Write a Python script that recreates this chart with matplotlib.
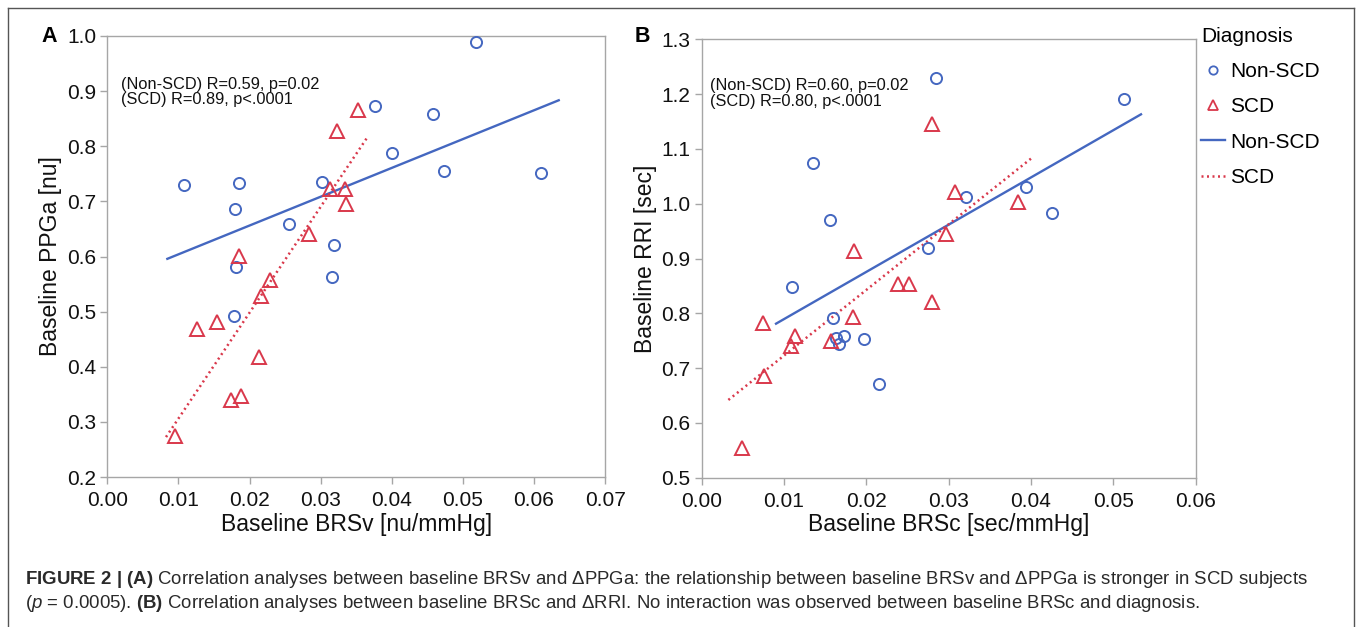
import matplotlib
matplotlib.use("Agg")
import matplotlib.pyplot as plt
from matplotlib.lines import Line2D

plt.rcParams['font.family'] = ['Liberation Sans', 'DejaVu Sans']
plt.rcParams['mathtext.fontset'] = 'custom'
plt.rcParams['mathtext.rm'] = 'Liberation Sans'
plt.rcParams['mathtext.it'] = 'Liberation Sans:italic'
plt.rcParams['mathtext.bf'] = 'Liberation Sans:bold'

# ---------------- Panel A data ----------------
a_nonscd_x = [0.0108, 0.0185, 0.0180, 0.0181, 0.0178, 0.0255, 0.0302, 0.0319,
              0.03165, 0.03765, 0.0401, 0.04585, 0.0474, 0.0519, 0.06095]
a_nonscd_y = [0.7305, 0.734, 0.6864, 0.5813, 0.4924, 0.6586, 0.736, 0.620,
              0.5631, 0.8725, 0.788, 0.859, 0.7553, 0.9897, 0.7517]
a_scd_x = [0.0353, 0.03235, 0.03132, 0.03348, 0.0335, 0.02836, 0.01852, 0.02288,
           0.02166, 0.01547, 0.01256, 0.02133, 0.01739, 0.01885, 0.00952]
a_scd_y = [0.8653, 0.8272, 0.722, 0.7233, 0.6949, 0.6417, 0.6006, 0.5577,
           0.5287, 0.4804, 0.4677, 0.4169, 0.3402, 0.3462, 0.2737]
a_fit_nonscd_x = [0.00844, 0.06348]
a_fit_nonscd_y = [0.5958, 0.8834]
a_fit_scd_x = [0.00825, 0.03657]
a_fit_scd_y = [0.2725, 0.8163]
a_xticks = [0.00, 0.01, 0.02, 0.03, 0.04, 0.05, 0.06, 0.07]
a_yticks = [0.2, 0.3, 0.4, 0.5, 0.6, 0.7, 0.8, 0.9, 1.0]
a_stats = "(Non-SCD) R=0.59, p=0.02\n(SCD) R=0.89, p<.0001"

# ---------------- Panel B data ----------------
b_nonscd_x = [0.02842, 0.0513, 0.01352, 0.01563, 0.0321, 0.03935, 0.04259, 0.02745,
              0.01097, 0.01591, 0.01628, 0.01664, 0.01729, 0.01972, 0.0215]
b_nonscd_y = [1.2288, 1.1917, 1.075, 0.9703, 1.0129, 1.0311, 0.983, 0.9186,
              0.8474, 0.7921, 0.7544, 0.744, 0.7586, 0.7526, 0.6717]
b_scd_x = [0.02798, 0.03073, 0.03838, 0.02964, 0.01846, 0.02385, 0.02518, 0.02802,
           0.01838, 0.00745, 0.01134, 0.01089, 0.01571, 0.00761, 0.0049]
b_scd_y = [1.1449, 1.0208, 1.0032, 0.9442, 0.9137, 0.8529, 0.8529, 0.8201,
           0.7939, 0.783, 0.7592, 0.741, 0.7495, 0.6856, 0.5536]
b_fit_nonscd_x = [0.00903, 0.05336]
b_fit_nonscd_y = [0.7811, 1.1631]
b_fit_scd_x = [0.00324, 0.04004]
b_fit_scd_y = [0.6419, 1.0828]
b_xticks = [0.00, 0.01, 0.02, 0.03, 0.04, 0.05, 0.06]
b_yticks = [0.5, 0.6, 0.7, 0.8, 0.9, 1.0, 1.1, 1.2, 1.3]
b_stats = "(Non-SCD) R=0.60, p=0.02\n(SCD) R=0.80, p<.0001"

BLUE = '#4467c0'
RED = '#d9384b'
SPINE = '#a6a6a6'

fig = plt.figure(figsize=(13.57, 6.27), dpi=100)


def panel(rect, nx, ny, sx, sy, fnx, fny, fsx, fsy, xticks, yticks, xfmt, yfmt,
          xlabel, ylabel, stats, stats_pos):
    ax = fig.add_axes(rect)
    ax.plot(nx, ny, ls='none', marker='o', ms=8, mfc='none', mec=BLUE, mew=1.4, zorder=3)
    ax.plot(sx, sy, ls='none', marker='^', ms=9.5, mfc='none', mec=RED, mew=1.4, zorder=3)
    ax.plot(fnx, fny, color=BLUE, lw=1.7, zorder=2)
    ax.plot(fsx, fsy, color=RED, lw=1.8, ls=(0, (0.8, 1.4)), zorder=2)
    ax.set_xlim(xticks[0], xticks[-1])
    ax.set_ylim(yticks[0], yticks[-1])
    ax.set_xticks(xticks)
    ax.set_yticks(yticks)
    ax.set_xticklabels([xfmt.format(v) for v in xticks])
    ax.set_yticklabels([yfmt.format(v) for v in yticks])
    for s in ax.spines.values():
        s.set_color(SPINE)
        s.set_linewidth(1.0)
    ax.tick_params(axis='both', direction='out', length=5, width=1.0, color=SPINE,
                   labelsize=15, labelcolor='#111111')
    ax.tick_params(axis='x', pad=5)
    ax.tick_params(axis='y', pad=3)
    ax.set_xlabel(xlabel, fontsize=16.5, labelpad=2, color='#111111')
    ax.set_ylabel(ylabel, fontsize=16.5, labelpad=3.5, color='#111111')
    ax.text(stats_pos[0], stats_pos[1], stats, transform=ax.transAxes, fontsize=11.8,
            va='top', ha='left', linespacing=1.05, color='#111111')
    return ax


axA = panel([0.0791, 0.2392, 0.3668, 0.7034], a_nonscd_x, a_nonscd_y, a_scd_x, a_scd_y,
            a_fit_nonscd_x, a_fit_nonscd_y, a_fit_scd_x, a_fit_scd_y,
            a_xticks, a_yticks, "{:.2f}", "{:.1f}",
            "Baseline BRSv [nu/mmHg]", "Baseline PPGa [nu]", a_stats, (0.028, 0.908))
axB = panel([0.5171, 0.2381, 0.3640, 0.6992], b_nonscd_x, b_nonscd_y, b_scd_x, b_scd_y,
            b_fit_nonscd_x, b_fit_nonscd_y, b_fit_scd_x, b_fit_scd_y,
            b_xticks, b_yticks, "{:.2f}", "{:.1f}",
            "Baseline BRSc [sec/mmHg]", "Baseline RRI [sec]", b_stats, (0.017, 0.911))

fig.text(49 / 1357, 1 - 37 / 627, "A", fontsize=15.5, fontweight='bold', ha='center', va='center')
fig.text(642 / 1357, 1 - 37 / 627, "B", fontsize=15.5, fontweight='bold', ha='center', va='center')

# Legend
handles = [
    Line2D([], [], ls='none', marker='o', ms=6, mfc='none', mec=BLUE, mew=1.3),
    Line2D([], [], ls='none', marker='^', ms=7.5, mfc='none', mec=RED, mew=1.3),
    Line2D([], [], color=BLUE, lw=1.7),
    Line2D([], [], color=RED, lw=1.8, ls=(0, (0.8, 1.4))),
]
labels = ["Non-SCD", "SCD", "Non-SCD", "SCD"]
leg = fig.legend(handles, labels, title="Diagnosis", loc='upper left',
                 bbox_to_anchor=(1201 / 1357, 1 - 27 / 627), frameon=False,
                 fontsize=15, title_fontsize=15, handlelength=1.15, handletextpad=0.25,
                 labelspacing=0.78, borderpad=0, borderaxespad=0, alignment='left')

# Outer frame (left, top, right)
frame_kw = dict(color='#555555', lw=1.0, transform=fig.transFigure)
fig.add_artist(Line2D([8 / 1357, 8 / 1357], [0, 1 - 8 / 627], **frame_kw))
fig.add_artist(Line2D([8 / 1357, 1354 / 1357], [1 - 8 / 627, 1 - 8 / 627], **frame_kw))
fig.add_artist(Line2D([1354 / 1357, 1354 / 1357], [0, 1 - 8 / 627], **frame_kw))

# Caption
cap1 = (r"$\mathbf{FIGURE\ 2\ |\ (A)}$ Correlation analyses between baseline BRSv and ΔPPGa: "
        r"the relationship between baseline BRSv and ΔPPGa is stronger in SCD subjects")
cap2 = (r"($\mathit{p}$ = 0.0005). $\mathbf{(B)}$ Correlation analyses between baseline BRSc and ΔRRI. "
        r"No interaction was observed between baseline BRSc and diagnosis.")
fig.text(25 / 1357, 1 - 580 / 627, cap1, fontsize=13.4, color='#2a2a2a', ha='left', va='center')
fig.text(25 / 1357, 1 - 604 / 627, cap2, fontsize=13.4, color='#2a2a2a', ha='left', va='center')

fig.savefig("out.png", dpi=100)
